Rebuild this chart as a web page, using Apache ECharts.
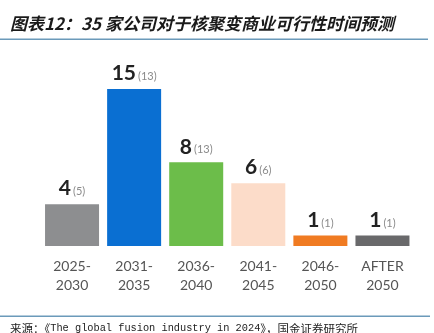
<!DOCTYPE html>
<html>
<head>
<meta charset="utf-8">
<script src="https://cdn.jsdelivr.net/npm/echarts@6/dist/echarts.min.js"></script>
<style>
  html, body { margin: 0; padding: 0; background: #ffffff; }
  #chart { width: 434px; height: 333px; }
</style>
</head>
<body>
<div id="chart"></div>
<script>
// Expected year of commercial fusion viability, survey of 35 companies
const categories = ['2025-\n2030', '2031-\n2035', '2036-\n2040', '2041-\n2045', '2046-\n2050', 'AFTER\n2050'];
const counts2024 = [4, 15, 8, 6, 1, 1];
const countsPrev = [5, 13, 13, 6, 1, 1];
const barColors = ['#8d8e90', '#0a6fd2', '#6cbd4a', '#fcdcc9', '#f07b22', '#69696b'];

const titleText = '图表12：35 家公司对于核聚变商业可行性时间预测';
const sourceText = ['来源：《', 'The global fusion industry in 2024', '》，', '国金证券研究所'];

const chart = echarts.init(document.getElementById('chart'), null, { renderer: 'canvas' });

const barData = counts2024.map((v, i) => ({
  value: v,
  prev: countsPrev[i],
  itemStyle: { color: barColors[i] }
}));

chart.setOption({
  backgroundColor: '#ffffff',
  animation: false,
  grid: { left: 41, right: 20.5, top: 89, bottom: 87 },
  xAxis: {
    type: 'category',
    data: categories,
    axisLine: { show: false },
    axisTick: { show: false },
    axisLabel: {
      margin: 11,
      fontFamily: 'Lato, "Noto Sans", sans-serif',
      fontSize: 14,
      lineHeight: 19,
      color: '#555555'
    }
  },
  yAxis: {
    type: 'value',
    min: 0,
    max: 15,
    show: false,
    splitLine: { show: false }
  },
  series: [{
    type: 'bar',
    data: barData,
    barWidth: 54,
    label: {
      show: true,
      position: 'top',
      distance: 5,
      formatter: p => '{v|' + p.value + '}{n|(' + p.data.prev + ')}',
      rich: {
        v: {
          fontFamily: 'Lato, "Open Sans", sans-serif',
          fontWeight: 'bold',
          fontSize: 21,
          color: '#222222',
          verticalAlign: 'bottom',
          padding: [0, 2, 0, 0]
        },
        n: {
          fontFamily: 'Lato, "Open Sans", sans-serif',
          fontSize: 11,
          color: '#8a8a8a',
          verticalAlign: 'bottom',
          padding: [0, 0, 2, 0]
        }
      }
    }
  }],
  graphic: [
    {
      type: 'text',
      left: 10,
      top: 15,
      style: {
        text: titleText,
        font: 'italic bold 17px "Noto Sans CJK SC", sans-serif',
        fill: '#1a1a1a'
      }
    },
    {
      type: 'rect',
      shape: { x: 0, y: 38.5, width: 428, height: 1.5 },
      style: { fill: '#6b9aba' }
    },
    {
      type: 'rect',
      shape: { x: 0, y: 315.5, width: 430, height: 1.5 },
      style: { fill: '#6b9aba' }
    },
    {
      type: 'text',
      left: 10,
      top: 323,
      style: {
        text: '{c|' + sourceText[0] + '}{m|' + sourceText[1] + '}{c|' + sourceText[2] + sourceText[3] + '}',
        rich: {
          c: { fontFamily: '"Noto Sans CJK SC", sans-serif', fontSize: 11.5, fill: '#222222' },
          m: { fontFamily: '"Liberation Mono", "DejaVu Sans Mono", monospace', fontSize: 10.3, fill: '#222222' }
        }
      }
    }
  ]
});
</script>
</body>
</html>
